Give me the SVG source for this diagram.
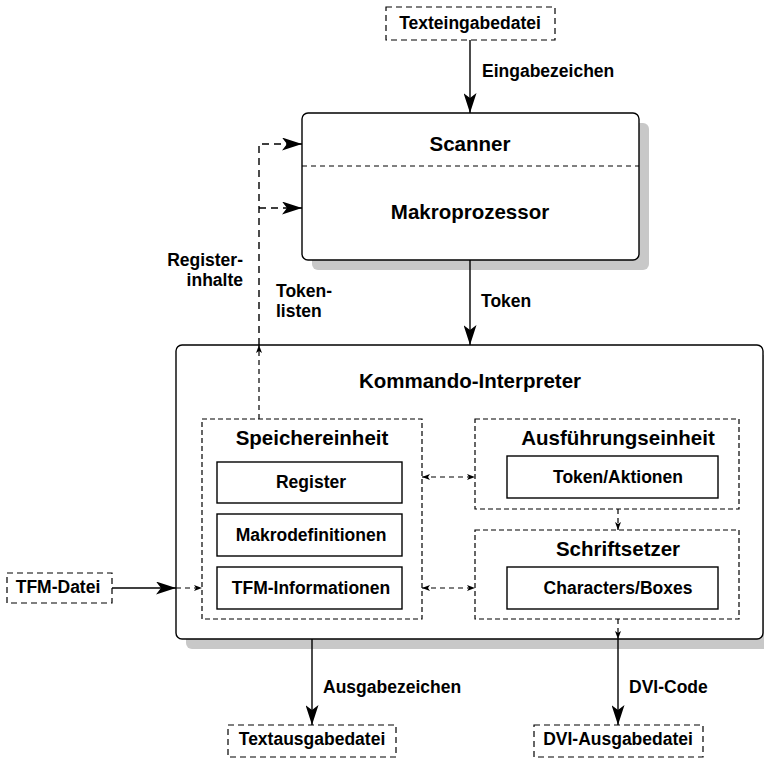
<svg xmlns="http://www.w3.org/2000/svg" width="764" height="758" viewBox="0 0 764 758">
<style>
text{font-family:"Liberation Sans",Arial,sans-serif;font-weight:bold;fill:#000}
.t{font-size:20.5px;text-anchor:middle}
.s{font-size:17.5px;text-anchor:middle}
.l{font-size:17.5px}
.r{font-size:17.5px;text-anchor:end}
.box{fill:#fff;stroke:#000;stroke-width:1.4}
.shadow{fill:#c8c8c8;stroke:none}
.dbox{fill:#fff;stroke:#000;stroke-width:1.2;stroke-dasharray:5,3}
.fbox{fill:#fff;stroke:#000;stroke-width:1.2;stroke-dasharray:6,4}
.sol{fill:none;stroke:#000;stroke-width:1.4}
.dsh{fill:none;stroke:#000;stroke-width:1.2;stroke-dasharray:5,4}
.dshL{fill:none;stroke:#000;stroke-width:1.4;stroke-dasharray:7,5}
</style>
<defs>
<marker id="big" viewBox="0 0 20 13" refX="20" refY="6.5" markerWidth="20" markerHeight="13" markerUnits="userSpaceOnUse" orient="auto">
<path d="M0,0 L20,6.5 L0,13 L5,6.5 Z" fill="#000"/>
</marker>
<marker id="sm" viewBox="0 0 8 6" refX="8" refY="3" markerWidth="8" markerHeight="6" markerUnits="userSpaceOnUse" orient="auto">
<path d="M0,0 L8,3 L0,6 L2,3 Z" fill="#000"/>
</marker>
<marker id="smS" viewBox="0 0 8 6" refX="0" refY="3" markerWidth="8" markerHeight="6" markerUnits="userSpaceOnUse" orient="auto">
<path d="M8,0 L0,3 L8,6 L6,3 Z" fill="#000"/>
</marker>
</defs>

<g id="scanner">
<rect class="shadow" x="312" y="123" width="337" height="147" rx="6"/>
<rect class="box" x="302" y="113" width="337" height="147" rx="6"/>
<line x1="302" y1="166" x2="639" y2="166" stroke="#000" stroke-width="1" stroke-dasharray="5,4"/>
<text class="t" x="470" y="151">Scanner</text>
<text class="t" x="470" y="219">Makroprozessor</text>
</g>

<g id="kommando">
<rect class="shadow" x="186" y="355" width="600" height="294" rx="6"/>
<rect class="box" x="176" y="345" width="587" height="294" rx="6"/>
<text class="t" x="470" y="388">Kommando-Interpreter</text>
</g>

<g id="speichereinheit">
<rect class="dbox" x="202" y="419" width="220" height="200"/>
<text class="t" x="312" y="445">Speichereinheit</text>
</g>
<g id="register">
<rect class="box" x="217" y="462" width="185" height="41"/>
<text class="s" x="311" y="488">Register</text>
</g>
<g id="makrodefinitionen">
<rect class="box" x="217" y="514" width="185" height="42"/>
<text class="s" x="311" y="541">Makrodefinitionen</text>
</g>
<g id="tfminfo">
<rect class="box" x="217" y="567" width="185" height="42"/>
<text class="s" x="311" y="594">TFM-Informationen</text>
</g>

<g id="ausfuehrungseinheit">
<rect class="dbox" x="475" y="419" width="264" height="90"/>
<text class="t" x="618" y="445">Ausführungseinheit</text>
</g>
<g id="tokenaktionen">
<rect class="box" x="507" y="456" width="211" height="42"/>
<text class="s" x="618" y="483">Token/Aktionen</text>
</g>

<g id="schriftsetzer">
<rect class="dbox" x="475" y="530" width="264" height="89"/>
<text class="t" x="618" y="556">Schriftsetzer</text>
</g>
<g id="charboxes">
<rect class="box" x="507" y="567" width="211" height="42"/>
<text class="s" x="618" y="594">Characters/Boxes</text>
</g>

<g id="texteingabedatei">
<rect class="fbox" x="386" y="7" width="169" height="33"/>
<text class="s" x="470" y="29">Texteingabedatei</text>
</g>
<g id="tfmdatei">
<rect class="fbox" x="7" y="573" width="105" height="30"/>
<text class="s" x="58" y="593">TFM-Datei</text>
</g>
<g id="textausgabedatei">
<rect class="fbox" x="228" y="725" width="168" height="32"/>
<text class="s" x="312" y="745">Textausgabedatei</text>
</g>
<g id="dviausgabedatei">
<rect class="fbox" x="534" y="725" width="169" height="32"/>
<text class="s" x="618" y="745">DVI-Ausgabedatei</text>
</g>

<g id="connectors">
<line class="sol" x1="470" y1="40" x2="470" y2="113" marker-end="url(#big)"/>
<text class="l" x="482" y="77">Eingabezeichen</text>
<line class="sol" x1="470" y1="260" x2="470" y2="345" marker-end="url(#big)"/>
<text class="l" x="481" y="307">Token</text>

<line class="dsh" x1="259" y1="419" x2="259" y2="345" marker-end="url(#sm)"/>
<polyline class="dshL" points="259,345 259,144 302,144" marker-end="url(#big)"/>
<polyline class="dshL" points="259,208 302,208" marker-end="url(#big)"/>
<text class="r" x="243" y="266">Register-</text>
<text class="r" x="243" y="286">inhalte</text>
<text class="l" x="276" y="297">Token-</text>
<text class="l" x="276" y="317">listen</text>

<line class="dsh" x1="422" y1="477" x2="475" y2="477" marker-start="url(#smS)" marker-end="url(#sm)"/>
<line class="dsh" x1="422" y1="588" x2="475" y2="588" marker-start="url(#smS)" marker-end="url(#sm)"/>
<line class="dsh" x1="618" y1="509" x2="618" y2="530" marker-end="url(#sm)"/>

<line class="sol" x1="112" y1="588" x2="176" y2="588" marker-end="url(#big)"/>
<line class="dsh" x1="176" y1="588" x2="202" y2="588" marker-end="url(#sm)"/>

<line class="dsh" x1="618" y1="619" x2="618" y2="639" marker-end="url(#sm)"/>
<line class="sol" x1="618" y1="639" x2="618" y2="725" marker-end="url(#big)"/>
<text class="l" x="629" y="693">DVI-Code</text>

<line class="sol" x1="312" y1="639" x2="312" y2="725" marker-end="url(#big)"/>
<text class="l" x="323" y="693">Ausgabezeichen</text>
</g>
</svg>
